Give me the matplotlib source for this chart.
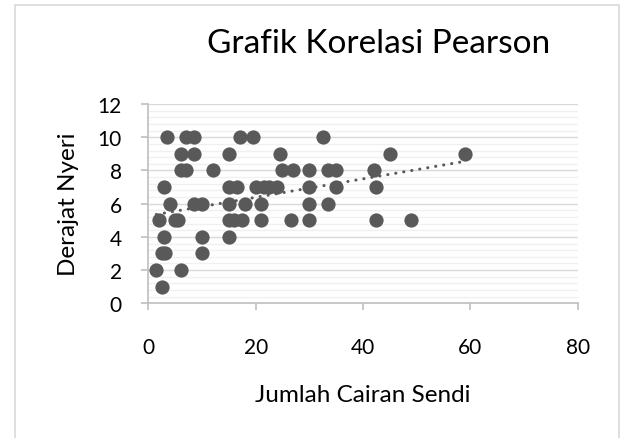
import matplotlib
matplotlib.use('Agg')
import matplotlib.pyplot as plt
from matplotlib.patches import Rectangle
from matplotlib.ticker import MultipleLocator

plt.rcParams['font.family'] = ['Lato', 'DejaVu Sans']

# Jumlah cairan sendi (x) dan derajat nyeri (y)
x_vals = [
	3.5, 7, 8.5, 17, 19.5, 32.5,
	6, 8.5, 15, 24.5, 45, 59,
	6, 7, 12, 25, 27, 30, 33.5, 35, 42,
	3, 15, 16.5, 20, 21.5, 22.5, 24, 30, 35, 42.5,
	4, 8.5, 10, 15, 18, 21, 30, 33.5,
	2, 5, 5.5, 15, 16, 17.5, 21, 26.5, 30, 42.5, 49,
	3, 10, 15,
	2.5, 3.2, 10,
	1.5, 6,
	2.5,
]
y_vals = [
	10, 10, 10, 10, 10, 10,
	9, 9, 9, 9, 9, 9,
	8, 8, 8, 8, 8, 8, 8, 8, 8,
	7, 7, 7, 7, 7, 7, 7, 7, 7, 7,
	6, 6, 6, 6, 6, 6, 6, 6,
	5, 5, 5, 5, 5, 5, 5, 5, 5, 5, 5,
	4, 4, 4,
	3, 3, 3,
	2, 2,
	1,
]

# linear trendline as drawn in the chart (end points)
trend_x = [1.5, 59]
trend_y = [5.35, 8.55]

title = 'Grafik Korelasi Pearson'
x_label = 'Jumlah Cairan Sendi'
y_label = 'Derajat Nyeri'

dark = '#595959'
axis_grey = '#bfbfbf'

fig = plt.figure(figsize=(6.22, 4.39), dpi=100)
ax = fig.add_axes([148.3 / 622, 1 - 304.3 / 439, 429.4 / 622, 199.3 / 439])

ax.scatter(x_vals, y_vals, s=105, color=dark, linewidths=0, zorder=3, clip_on=False)
ax.plot(trend_x, trend_y, color=dark, lw=2.2,
	linestyle=(0, (0.05, 2.6)), dash_capstyle='round', zorder=4)

ax.set_xlim(0, 80)
ax.set_ylim(0, 12)
ax.xaxis.set_major_locator(MultipleLocator(20))
ax.yaxis.set_major_locator(MultipleLocator(2))
ax.yaxis.set_minor_locator(MultipleLocator(0.4))

ax.grid(True, axis='y', which='major', color='#d9d9d9', lw=1.0, zorder=0)
ax.grid(True, axis='y', which='minor', color='#f0f0f0', lw=1.0, zorder=0)
ax.set_axisbelow(True)

for side in ('top', 'right'):
	ax.spines[side].set_visible(False)
for side in ('left', 'bottom'):
	ax.spines[side].set_color(axis_grey)
	ax.spines[side].set_linewidth(1.2)

ax.tick_params(axis='both', which='major', length=5, width=1.2, color=axis_grey,
	labelsize=15, labelcolor='black')
ax.tick_params(axis='x', pad=19)
ax.tick_params(axis='y', pad=14)
ax.tick_params(axis='y', which='minor', length=0)

ax.set_xlabel(x_label, fontsize=17.5)
ax.xaxis.set_label_coords(0.5, -0.46)
ax.xaxis.label.set_va('center')
ax.set_ylabel(y_label, fontsize=17.5)
ax.yaxis.set_label_coords(-0.185, 0.5)
ax.yaxis.label.set_va('center')

fig.text(378.4 / 622, 1 - 52.7 / 439, title, fontsize=24, ha='center', va='baseline')

# chart border
fig.patches.append(Rectangle((14.5 / 622, -0.01), 604 / 622, 1 - 5.5 / 439 + 0.01,
	transform=fig.transFigure, fill=False, edgecolor='#d9d9d9', lw=1.2))

fig.savefig('out.png', dpi=100)
